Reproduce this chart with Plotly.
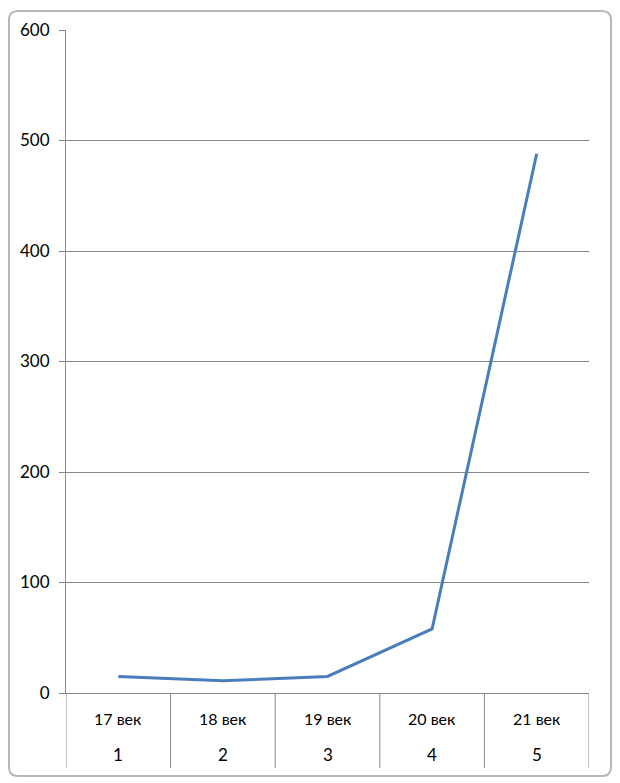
import plotly.graph_objects as go

# Data
positions = [1, 2, 3, 4, 5]
centuries = ["17 век", "18 век", "19 век", "20 век", "21 век"]
values = [15, 11, 15, 58, 488]

grid_color = "#878787"
font_family = "Lato, Calibri, 'Noto Sans', sans-serif"

fig = go.Figure()
fig.add_trace(go.Scatter(
    x=positions, y=values, mode="lines",
    line=dict(color="#4A7EBB", width=3),
    hoverinfo="skip", showlegend=False,
))

shapes = []
# vertical dividers of the category table
for i in range(len(positions) + 1):
    xv = positions[0] - 0.5 + i
    shapes.append(dict(
        type="line", xref="x", yref="paper", ysizemode="pixel", yanchor=0,
        x0=xv, x1=xv, y0=0, y1=-75,
        line=dict(color=grid_color, width=1),
    ))

# rounded outer frame (pixel coordinates relative to plot origin)
L, R, T, B, r = -57, 545, 682, -83, 9
path = (f"M {L+r},{B} L {R-r},{B} Q {R},{B} {R},{B+r} L {R},{T-r} "
        f"Q {R},{T} {R-r},{T} L {L+r},{T} Q {L},{T} {L},{T-r} "
        f"L {L},{B+r} Q {L},{B} {L+r},{B} Z")
shapes.append(dict(
    type="path", xref="paper", yref="paper", xsizemode="pixel", ysizemode="pixel",
    xanchor=0, yanchor=0, path=path,
    line=dict(color="#B8B8B8", width=2), layer="below",
))

annotations = []
for p, c in zip(positions, centuries):
    annotations.append(dict(
        x=p, y=0, xref="x", yref="paper", text=c, showarrow=False,
        yanchor="middle", yshift=-25,
        font=dict(family=font_family, size=16, color="#000000"),
    ))
    annotations.append(dict(
        x=p, y=0, xref="x", yref="paper", text=str(p), showarrow=False,
        yanchor="middle", yshift=-61,
        font=dict(family=font_family, size=17, color="#000000"),
    ))

fig.update_layout(
    width=612, height=775,
    margin=dict(l=58, r=31, t=22, b=90),
    paper_bgcolor="white", plot_bgcolor="white",
    shapes=shapes, annotations=annotations,
    xaxis=dict(
        range=[0.5, 5.5], showgrid=False, zeroline=False,
        showticklabels=False, ticks="",
        showline=True, linecolor=grid_color, linewidth=1,
        fixedrange=True,
    ),
    yaxis=dict(
        range=[0, 600], dtick=100, tick0=0,
        showgrid=True, gridcolor=grid_color, gridwidth=1,
        zeroline=False, showline=True, linecolor=grid_color, linewidth=1,
        ticks="outside", ticklen=6, tickcolor=grid_color,
        ticklabelstandoff=6,
        tickfont=dict(family=font_family, size=17, color="#000000"),
        fixedrange=True,
    ),
)

fig.write_html("out.html")
